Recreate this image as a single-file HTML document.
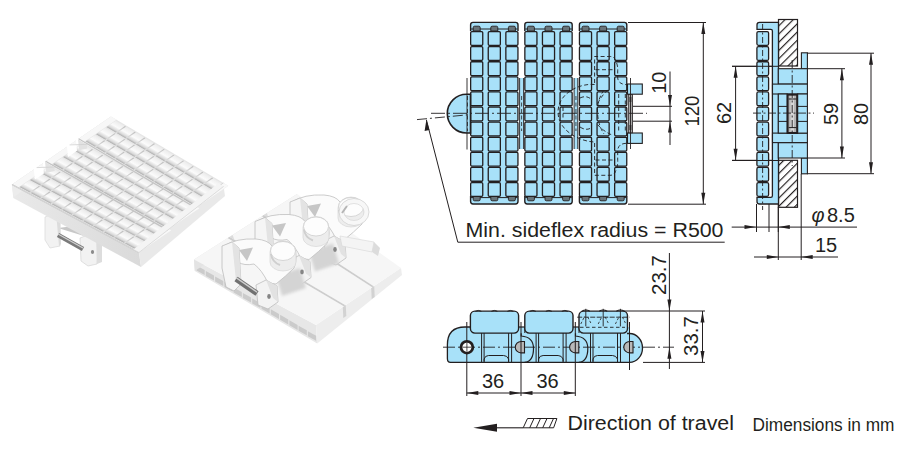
<!DOCTYPE html>
<html><head><meta charset="utf-8"><style>
html,body{margin:0;padding:0;background:#fff;width:921px;height:454px;overflow:hidden}
svg{display:block}
text{font-family:"Liberation Sans",sans-serif;fill:#231f20}
</style></head><body>
<svg width="921" height="454" viewBox="0 0 921 454">
<rect width="921" height="454" fill="#fff"/>
<defs>
<linearGradient id="ridge" x1="0" y1="0" x2="0" y2="1">
<stop offset="0" stop-color="#aaaaaa"/><stop offset="0.18" stop-color="#d8d8d8"/><stop offset="0.5" stop-color="#fbfbfb"/><stop offset="1" stop-color="#ececec"/>
</linearGradient>
<linearGradient id="gap" x1="0" y1="0" x2="0" y2="1"><stop offset="0" stop-color="#e2e2e2"/><stop offset="0.5" stop-color="#d2d2d2"/><stop offset="1" stop-color="#bebebe"/></linearGradient>
<linearGradient id="ffaceL" x1="0" y1="0" x2="1" y2="0">
<stop offset="0" stop-color="#e9e9e9"/><stop offset="1" stop-color="#dadada"/>
</linearGradient>
</defs>
<polygon points="58,228 84,236 74,226" fill="#c8c8c8"/>
<polygon points="45,217 58,212 60,222 60,246 50,248 45,240" fill="#f2f2f2" stroke="#d8d8d8" stroke-width="0.7"/>
<polygon points="56,212 60,214 61,244 59,246" fill="#dcdcdc"/>
<polygon points="80,238 93,233 98,240 97,264 88,266 81,261" fill="#f2f2f2" stroke="#d4d4d4" stroke-width="0.7"/>
<polygon points="96,236 102,242 102,262 97,264" fill="#dddddd"/>
<line x1="58" y1="235" x2="83" y2="249" stroke="#7a7a7a" stroke-width="4.6"/>
<line x1="58" y1="234" x2="83" y2="248" stroke="#d0d0d0" stroke-width="1.2"/>
<ellipse cx="92.5" cy="252" rx="1.6" ry="2" fill="#8a8a8a"/>
<polygon points="12.0,184.5 139.0,252.5 141.0,267.0 13.3,198.0" fill="url(#ffaceL)"/>
<polygon points="139.0,252.5 223.6,186.4 225.0,196.0 141.0,267.0" fill="#e9e9e9"/>
<polygon points="12.0,184.5 111.0,116.5 112.0,127.0 13.3,197.5" fill="#ececec"/>
<g transform="matrix(0.9769,0.5231,1.0802,-0.7420,12.00,184.50)">
<rect x="0" y="0" width="130" height="30" fill="#e6e6e6"/>
<rect x="0" y="0" width="6" height="30" fill="#f7f7f7"/>
<rect x="6.5" y="1.2" width="118" height="8.6" fill="url(#ridge)"/>
<rect x="16.6" y="1.2" width="1.2" height="8.6" fill="url(#gap)"/>
<rect x="27.4" y="1.2" width="1.2" height="8.6" fill="url(#gap)"/>
<rect x="38.1" y="1.2" width="1.2" height="8.6" fill="url(#gap)"/>
<rect x="48.8" y="1.2" width="1.2" height="8.6" fill="url(#gap)"/>
<rect x="59.5" y="1.2" width="1.2" height="8.6" fill="url(#gap)"/>
<rect x="70.3" y="1.2" width="1.2" height="8.6" fill="url(#gap)"/>
<rect x="81.0" y="1.2" width="1.2" height="8.6" fill="url(#gap)"/>
<rect x="91.7" y="1.2" width="1.2" height="8.6" fill="url(#gap)"/>
<rect x="102.4" y="1.2" width="1.2" height="8.6" fill="url(#gap)"/>
<rect x="113.2" y="1.2" width="1.2" height="8.6" fill="url(#gap)"/>
<rect x="6.5" y="10.799999999999999" width="118" height="8.6" fill="url(#ridge)"/>
<rect x="16.6" y="10.799999999999999" width="1.2" height="8.6" fill="url(#gap)"/>
<rect x="27.4" y="10.799999999999999" width="1.2" height="8.6" fill="url(#gap)"/>
<rect x="38.1" y="10.799999999999999" width="1.2" height="8.6" fill="url(#gap)"/>
<rect x="48.8" y="10.799999999999999" width="1.2" height="8.6" fill="url(#gap)"/>
<rect x="59.5" y="10.799999999999999" width="1.2" height="8.6" fill="url(#gap)"/>
<rect x="70.3" y="10.799999999999999" width="1.2" height="8.6" fill="url(#gap)"/>
<rect x="81.0" y="10.799999999999999" width="1.2" height="8.6" fill="url(#gap)"/>
<rect x="91.7" y="10.799999999999999" width="1.2" height="8.6" fill="url(#gap)"/>
<rect x="102.4" y="10.799999999999999" width="1.2" height="8.6" fill="url(#gap)"/>
<rect x="113.2" y="10.799999999999999" width="1.2" height="8.6" fill="url(#gap)"/>
<rect x="6.5" y="20.4" width="118" height="8.6" fill="url(#ridge)"/>
<rect x="16.6" y="20.4" width="1.2" height="8.6" fill="url(#gap)"/>
<rect x="27.4" y="20.4" width="1.2" height="8.6" fill="url(#gap)"/>
<rect x="38.1" y="20.4" width="1.2" height="8.6" fill="url(#gap)"/>
<rect x="48.8" y="20.4" width="1.2" height="8.6" fill="url(#gap)"/>
<rect x="59.5" y="20.4" width="1.2" height="8.6" fill="url(#gap)"/>
<rect x="70.3" y="20.4" width="1.2" height="8.6" fill="url(#gap)"/>
<rect x="81.0" y="20.4" width="1.2" height="8.6" fill="url(#gap)"/>
<rect x="91.7" y="20.4" width="1.2" height="8.6" fill="url(#gap)"/>
<rect x="102.4" y="20.4" width="1.2" height="8.6" fill="url(#gap)"/>
<rect x="113.2" y="20.4" width="1.2" height="8.6" fill="url(#gap)"/>
<rect x="124.6" y="0" width="5.4" height="30" fill="#f8f8f8"/>
<line x1="124.6" y1="0" x2="124.6" y2="30" stroke="#d4d4d4" stroke-width="0.9" vector-effect="non-scaling-stroke"/>
<line x1="0" y1="0" x2="130" y2="0" stroke="#c4c4c4" stroke-width="1.3" vector-effect="non-scaling-stroke"/>
</g>
<g transform="matrix(0.9393,0.5280,1.0604,-0.7284,45.59,161.43)">
<rect x="0" y="0" width="130" height="30" fill="#e6e6e6"/>
<rect x="0" y="0" width="6" height="30" fill="#f7f7f7"/>
<rect x="6.5" y="1.2" width="118" height="8.6" fill="url(#ridge)"/>
<rect x="16.6" y="1.2" width="1.2" height="8.6" fill="url(#gap)"/>
<rect x="27.4" y="1.2" width="1.2" height="8.6" fill="url(#gap)"/>
<rect x="38.1" y="1.2" width="1.2" height="8.6" fill="url(#gap)"/>
<rect x="48.8" y="1.2" width="1.2" height="8.6" fill="url(#gap)"/>
<rect x="59.5" y="1.2" width="1.2" height="8.6" fill="url(#gap)"/>
<rect x="70.3" y="1.2" width="1.2" height="8.6" fill="url(#gap)"/>
<rect x="81.0" y="1.2" width="1.2" height="8.6" fill="url(#gap)"/>
<rect x="91.7" y="1.2" width="1.2" height="8.6" fill="url(#gap)"/>
<rect x="102.4" y="1.2" width="1.2" height="8.6" fill="url(#gap)"/>
<rect x="113.2" y="1.2" width="1.2" height="8.6" fill="url(#gap)"/>
<rect x="6.5" y="10.799999999999999" width="118" height="8.6" fill="url(#ridge)"/>
<rect x="16.6" y="10.799999999999999" width="1.2" height="8.6" fill="url(#gap)"/>
<rect x="27.4" y="10.799999999999999" width="1.2" height="8.6" fill="url(#gap)"/>
<rect x="38.1" y="10.799999999999999" width="1.2" height="8.6" fill="url(#gap)"/>
<rect x="48.8" y="10.799999999999999" width="1.2" height="8.6" fill="url(#gap)"/>
<rect x="59.5" y="10.799999999999999" width="1.2" height="8.6" fill="url(#gap)"/>
<rect x="70.3" y="10.799999999999999" width="1.2" height="8.6" fill="url(#gap)"/>
<rect x="81.0" y="10.799999999999999" width="1.2" height="8.6" fill="url(#gap)"/>
<rect x="91.7" y="10.799999999999999" width="1.2" height="8.6" fill="url(#gap)"/>
<rect x="102.4" y="10.799999999999999" width="1.2" height="8.6" fill="url(#gap)"/>
<rect x="113.2" y="10.799999999999999" width="1.2" height="8.6" fill="url(#gap)"/>
<rect x="6.5" y="20.4" width="118" height="8.6" fill="url(#ridge)"/>
<rect x="16.6" y="20.4" width="1.2" height="8.6" fill="url(#gap)"/>
<rect x="27.4" y="20.4" width="1.2" height="8.6" fill="url(#gap)"/>
<rect x="38.1" y="20.4" width="1.2" height="8.6" fill="url(#gap)"/>
<rect x="48.8" y="20.4" width="1.2" height="8.6" fill="url(#gap)"/>
<rect x="59.5" y="20.4" width="1.2" height="8.6" fill="url(#gap)"/>
<rect x="70.3" y="20.4" width="1.2" height="8.6" fill="url(#gap)"/>
<rect x="81.0" y="20.4" width="1.2" height="8.6" fill="url(#gap)"/>
<rect x="91.7" y="20.4" width="1.2" height="8.6" fill="url(#gap)"/>
<rect x="102.4" y="20.4" width="1.2" height="8.6" fill="url(#gap)"/>
<rect x="113.2" y="20.4" width="1.2" height="8.6" fill="url(#gap)"/>
<rect x="124.6" y="0" width="5.4" height="30" fill="#f8f8f8"/>
<line x1="124.6" y1="0" x2="124.6" y2="30" stroke="#d4d4d4" stroke-width="0.9" vector-effect="non-scaling-stroke"/>
<line x1="0" y1="0" x2="130" y2="0" stroke="#c4c4c4" stroke-width="1.3" vector-effect="non-scaling-stroke"/>
</g>
<g transform="matrix(0.9024,0.5329,1.0802,-0.7420,78.59,138.76)">
<rect x="0" y="0" width="130" height="30" fill="#e6e6e6"/>
<rect x="0" y="0" width="6" height="30" fill="#f7f7f7"/>
<rect x="6.5" y="1.2" width="118" height="8.6" fill="url(#ridge)"/>
<rect x="16.6" y="1.2" width="1.2" height="8.6" fill="url(#gap)"/>
<rect x="27.4" y="1.2" width="1.2" height="8.6" fill="url(#gap)"/>
<rect x="38.1" y="1.2" width="1.2" height="8.6" fill="url(#gap)"/>
<rect x="48.8" y="1.2" width="1.2" height="8.6" fill="url(#gap)"/>
<rect x="59.5" y="1.2" width="1.2" height="8.6" fill="url(#gap)"/>
<rect x="70.3" y="1.2" width="1.2" height="8.6" fill="url(#gap)"/>
<rect x="81.0" y="1.2" width="1.2" height="8.6" fill="url(#gap)"/>
<rect x="91.7" y="1.2" width="1.2" height="8.6" fill="url(#gap)"/>
<rect x="102.4" y="1.2" width="1.2" height="8.6" fill="url(#gap)"/>
<rect x="113.2" y="1.2" width="1.2" height="8.6" fill="url(#gap)"/>
<rect x="6.5" y="10.799999999999999" width="118" height="8.6" fill="url(#ridge)"/>
<rect x="16.6" y="10.799999999999999" width="1.2" height="8.6" fill="url(#gap)"/>
<rect x="27.4" y="10.799999999999999" width="1.2" height="8.6" fill="url(#gap)"/>
<rect x="38.1" y="10.799999999999999" width="1.2" height="8.6" fill="url(#gap)"/>
<rect x="48.8" y="10.799999999999999" width="1.2" height="8.6" fill="url(#gap)"/>
<rect x="59.5" y="10.799999999999999" width="1.2" height="8.6" fill="url(#gap)"/>
<rect x="70.3" y="10.799999999999999" width="1.2" height="8.6" fill="url(#gap)"/>
<rect x="81.0" y="10.799999999999999" width="1.2" height="8.6" fill="url(#gap)"/>
<rect x="91.7" y="10.799999999999999" width="1.2" height="8.6" fill="url(#gap)"/>
<rect x="102.4" y="10.799999999999999" width="1.2" height="8.6" fill="url(#gap)"/>
<rect x="113.2" y="10.799999999999999" width="1.2" height="8.6" fill="url(#gap)"/>
<rect x="6.5" y="20.4" width="118" height="8.6" fill="url(#ridge)"/>
<rect x="16.6" y="20.4" width="1.2" height="8.6" fill="url(#gap)"/>
<rect x="27.4" y="20.4" width="1.2" height="8.6" fill="url(#gap)"/>
<rect x="38.1" y="20.4" width="1.2" height="8.6" fill="url(#gap)"/>
<rect x="48.8" y="20.4" width="1.2" height="8.6" fill="url(#gap)"/>
<rect x="59.5" y="20.4" width="1.2" height="8.6" fill="url(#gap)"/>
<rect x="70.3" y="20.4" width="1.2" height="8.6" fill="url(#gap)"/>
<rect x="81.0" y="20.4" width="1.2" height="8.6" fill="url(#gap)"/>
<rect x="91.7" y="20.4" width="1.2" height="8.6" fill="url(#gap)"/>
<rect x="102.4" y="20.4" width="1.2" height="8.6" fill="url(#gap)"/>
<rect x="113.2" y="20.4" width="1.2" height="8.6" fill="url(#gap)"/>
<rect x="124.6" y="0" width="5.4" height="30" fill="#f8f8f8"/>
<line x1="124.6" y1="0" x2="124.6" y2="30" stroke="#d4d4d4" stroke-width="0.9" vector-effect="non-scaling-stroke"/>
<line x1="0" y1="0" x2="130" y2="0" stroke="#c4c4c4" stroke-width="1.3" vector-effect="non-scaling-stroke"/>
</g>
<polygon points="33.6,166.6 54.2,167.0 42.6,160.5 43.9,173.5 34.9,179.6" fill="#ffffff"/>
<polygon points="45.0,161.8 54.2,167.0 54.8,171.0 46.2,172.8" fill="#e2e2e2"/>
<polyline points="36.6,167.6 54.2,167.0" fill="none" stroke="#d0d0d0" stroke-width="0.8"/>
<polygon points="66.7,143.9 86.8,144.4 75.7,137.8 77.0,150.8 68.0,156.9" fill="#ffffff"/>
<polygon points="78.0,139.2 86.8,144.4 87.4,148.4 79.2,150.2" fill="#e2e2e2"/>
<polyline points="69.6,144.9 86.8,144.4" fill="none" stroke="#d0d0d0" stroke-width="0.8"/>
<polygon points="133.3,249.4 139.0,252.5 223.6,186.4 218.5,183.3" fill="#f4f4f4"/>
<polyline points="139.0,252.5 223.6,186.4" fill="none" stroke="#d6d6d6" stroke-width="0.8"/>
<polyline points="12.0,184.5 139.0,252.5" fill="none" stroke="#d9d9d9" stroke-width="0.8"/>
<defs><filter id="bl" x="-30%" y="-30%" width="160%" height="160%"><feGaussianBlur stdDeviation="1.6"/></filter><filter id="bl2" x="-30%" y="-30%" width="160%" height="160%"><feGaussianBlur stdDeviation="0.7"/></filter></defs>
<polygon points="194.0,259.5 316.0,325.0 317.2,343.5 194.8,271.0" fill="#e7e7e7"/>
<polygon points="196.5,265.5 204.7,270.1 204.7,275.1 196.5,270.5" fill="#cbcbcb"/>
<polygon points="205.8,271.0 214.0,275.6 214.0,280.6 205.8,276.0" fill="#cbcbcb"/>
<polygon points="215.1,276.5 223.3,281.1 223.3,286.1 215.1,281.5" fill="#cbcbcb"/>
<polygon points="224.4,281.9 232.6,286.5 232.6,291.5 224.4,286.9" fill="#cbcbcb"/>
<polygon points="233.6,287.4 241.8,292.0 241.8,297.0 233.6,292.4" fill="#cbcbcb"/>
<polygon points="242.9,292.9 251.1,297.5 251.1,302.5 242.9,297.9" fill="#cbcbcb"/>
<polygon points="252.2,298.4 260.4,303.0 260.4,308.0 252.2,303.4" fill="#cbcbcb"/>
<polygon points="261.5,303.8 269.7,308.4 269.7,313.4 261.5,308.8" fill="#cbcbcb"/>
<polygon points="270.8,309.3 279.0,313.9 279.0,318.9 270.8,314.3" fill="#cbcbcb"/>
<polygon points="280.1,314.8 288.3,319.4 288.3,324.4 280.1,319.8" fill="#cbcbcb"/>
<polygon points="289.4,320.3 297.6,324.9 297.6,329.9 289.4,325.3" fill="#cbcbcb"/>
<polygon points="298.6,325.7 306.8,330.3 306.8,335.3 298.6,330.7" fill="#cbcbcb"/>
<polygon points="307.9,331.2 316.1,335.8 316.1,340.8 307.9,336.2" fill="#cbcbcb"/>
<polygon points="316.0,325.0 401.0,268.0 402.0,275.0 317.2,343.5" fill="#ededed"/>
<polygon points="342.8,307.0 345.8,305.0 346.3,316.0 343.3,318.0" fill="#d2d2d2"/>
<polygon points="371.2,288.0 374.2,286.0 374.7,297.0 371.7,299.0" fill="#d2d2d2"/>
<polygon points="194.0,259.5 297.0,194.0 298.0,202.0 194.8,271.0" fill="#e3e3e3"/>
<polygon points="194.0,259.5 316.0,325.0 343.8,306.3 227.7,238.1" fill="#f6f6f6"/>
<polygon points="229.6,236.9 345.4,305.3 372.2,287.3 262.0,216.2" fill="#f6f6f6"/>
<polygon points="227.7,238.1 343.8,306.3 345.4,305.3 229.6,236.9" fill="#cdcdcd"/>
<polygon points="229.6,236.9 234.2,239.6 232.7,234.9" fill="#dcdcdc"/>
<polygon points="263.9,215.0 373.7,286.3 401.0,268.0 297.0,194.0" fill="#f6f6f6"/>
<polygon points="262.0,216.2 372.2,287.3 373.7,286.3 263.9,215.0" fill="#cdcdcd"/>
<polygon points="263.9,215.0 268.3,217.9 267.0,213.1" fill="#dcdcdc"/>
<path d="M292,202 Q304,194 324,195 Q336,196 340,202 L362,202 Q366,214 362,224 Q354,232 344,240 L336,239 Q330,226 322,220 Q312,222 306,218 Z" fill="#fbfbfb" stroke="#bfbfbf" stroke-width="0.8"/>
<polygon points="307.0,206.0 321.0,203.5 315.0,217.0" fill="#c6c6c6"/>
<path d="M338,208 A13,11 0 0 1 364,208 V218 A13,9 0 0 1 338,218 Z" fill="#ededed" stroke="#d2d2d2" stroke-width="0.6"/>
<ellipse cx="351" cy="207" rx="12.5" ry="9.5" fill="#fdfdfd" stroke="#c8c8c8" stroke-width="0.7"/>
<path d="M339,210 Q340,218 348,221" fill="none" stroke="#cfcfcf" stroke-width="2" filter="url(#bl2)"/>
<polygon points="290.0,202.0 300.0,198.0 307.0,204.0 309.0,240.0 302.0,247.0 294.0,243.0 290.0,224.0" fill="#f5f5f5" stroke="#bdbdbd" stroke-width="0.8"/>
<polygon points="300.0,198.0 307.0,204.0 309.0,240.0 304.0,237.0" fill="#e3e3e3"/>
<polygon points="324.0,241.0 334.0,236.0 345.0,242.0 346.0,258.0 336.0,265.0 326.0,261.0" fill="#f3f3f3" stroke="#bcbcbc" stroke-width="0.8"/>
<polygon points="334.0,236.0 345.0,242.0 346.0,258.0 341.0,254.0" fill="#e2e2e2"/>
<polygon points="309.0,251.5 333.0,243.5 339.0,263.5 315.0,271.5" fill="#d4d4d4" filter="url(#bl)"/>
<path d="M257,221.5 Q269,213.5 289,214.5 Q301,215.5 305,221.5 L327,221.5 Q331,233.5 327,243.5 Q319,251.5 309,259.5 L301,258.5 Q295,245.5 287,239.5 Q277,241.5 271,237.5 Z" fill="#fbfbfb" stroke="#bfbfbf" stroke-width="0.8"/>
<polygon points="272.0,225.5 286.0,223.0 280.0,236.5" fill="#c6c6c6"/>
<path d="M303,227.5 A13,11 0 0 1 329,227.5 V237.5 A13,9 0 0 1 303,237.5 Z" fill="#ededed" stroke="#d2d2d2" stroke-width="0.6"/>
<ellipse cx="316" cy="226.5" rx="12.5" ry="9.5" fill="#fdfdfd" stroke="#c8c8c8" stroke-width="0.7"/>
<path d="M304,229.5 Q305,237.5 313,240.5" fill="none" stroke="#cfcfcf" stroke-width="2" filter="url(#bl2)"/>
<polygon points="255.0,221.5 265.0,217.5 272.0,223.5 274.0,259.5 267.0,266.5 259.0,262.5 255.0,243.5" fill="#f5f5f5" stroke="#bdbdbd" stroke-width="0.8"/>
<polygon points="265.0,217.5 272.0,223.5 274.0,259.5 269.0,256.5" fill="#e3e3e3"/>
<polygon points="289.0,260.5 299.0,255.5 310.0,261.5 311.0,277.5 301.0,284.5 291.0,280.5" fill="#f3f3f3" stroke="#bcbcbc" stroke-width="0.8"/>
<polygon points="299.0,255.5 310.0,261.5 311.0,277.5 306.0,273.5" fill="#e2e2e2"/>
<polygon points="276.0,276.0 300.0,268.0 306.0,288.0 282.0,296.0" fill="#d4d4d4" filter="url(#bl)"/>
<path d="M224,246 Q236,238 256,239 Q268,240 272,246 L294,246 Q298,258 294,268 Q286,276 276,284 L268,283 Q262,270 254,264 Q244,266 238,262 Z" fill="#fbfbfb" stroke="#bfbfbf" stroke-width="0.8"/>
<polygon points="239.0,250.0 253.0,247.5 247.0,261.0" fill="#c6c6c6"/>
<path d="M270,252 A13,11 0 0 1 296,252 V262 A13,9 0 0 1 270,262 Z" fill="#ededed" stroke="#d2d2d2" stroke-width="0.6"/>
<ellipse cx="283" cy="251" rx="12.5" ry="9.5" fill="#fdfdfd" stroke="#c8c8c8" stroke-width="0.7"/>
<path d="M271,254 Q272,262 280,265" fill="none" stroke="#cfcfcf" stroke-width="2" filter="url(#bl2)"/>
<polygon points="222.0,246.0 232.0,242.0 239.0,248.0 241.0,284.0 234.0,291.0 226.0,287.0 222.0,268.0" fill="#f5f5f5" stroke="#bdbdbd" stroke-width="0.8"/>
<polygon points="232.0,242.0 239.0,248.0 241.0,284.0 236.0,281.0" fill="#e3e3e3"/>
<polygon points="256.0,285.0 266.0,280.0 277.0,286.0 278.0,302.0 268.0,309.0 258.0,305.0" fill="#f3f3f3" stroke="#bcbcbc" stroke-width="0.8"/>
<polygon points="266.0,280.0 277.0,286.0 278.0,302.0 273.0,298.0" fill="#e2e2e2"/>
<ellipse cx="269" cy="296.5" rx="1.8" ry="2.4" fill="#858585"/>
<ellipse cx="302" cy="272" rx="1.8" ry="2.4" fill="#858585"/>
<ellipse cx="335" cy="249.5" rx="1.8" ry="2.4" fill="#858585"/>
<ellipse cx="342" cy="210" rx="1.8" ry="2.4" fill="#858585"/>
<ellipse cx="354" cy="212" rx="12.5" ry="11" fill="none" stroke="#f7f7f7" stroke-width="5"/>
<ellipse cx="354" cy="212" rx="15" ry="13.5" fill="none" stroke="#d2d2d2" stroke-width="0.8"/>
<ellipse cx="354" cy="212" rx="10" ry="8.5" fill="none" stroke="#dadada" stroke-width="0.8"/>
<path d="M340,236 L374,242 L372,252 L342,246 Z" fill="#f4f4f4" stroke="#d6d6d6" stroke-width="0.6"/>
<path d="M374,242 L380,248 L378,256 L372,252 Z" fill="#dcdcdc"/>
<line x1="347" y1="206" x2="342" y2="213" stroke="#b5b5b5" stroke-width="2"/>
<line x1="236" y1="279" x2="257" y2="293.5" stroke="#707070" stroke-width="5.5"/>
<line x1="236" y1="277.6" x2="257" y2="292.1" stroke="#cfcfcf" stroke-width="1.3"/>
<rect x="471.0" y="23" width="46.5" height="180.5" fill="#a8e1f9"/>
<path d="M470.6,31 V24.8 Q470.6,22.4 473.0,22.4 H515.6 Q518.0,22.4 518.0,24.8 V31" fill="#a8e1f9" stroke="#231f20" stroke-width="1.4"/>
<line x1="471.0" y1="29" x2="517.6" y2="29" stroke="#231f20" stroke-width="1"/>
<path d="M470.6,196 V201.6 Q470.6,204 473.0,204 H515.6 Q518.0,204 518.0,201.6 V196" fill="#a8e1f9" stroke="#231f20" stroke-width="1.4"/>
<line x1="471.0" y1="197.6" x2="517.6" y2="197.6" stroke="#231f20" stroke-width="1"/>
<path d="M473.2,31 V27.6 Q473.2,26.2 474.6,26.2 H478.8 Q480.2,26.2 480.2,27.6 V31 Z" fill="#68747a" stroke="#231f20" stroke-width="0.9"/>
<path d="M473.2,196 V199.4 Q473.2,200.8 474.6,200.8 H478.8 Q480.2,200.8 480.2,199.4 V196 Z" fill="#68747a" stroke="#231f20" stroke-width="0.9"/>
<rect x="470.65" y="31.549999999999997" width="12.1" height="13.799999999999999" rx="1.1" fill="#a8e1f9" stroke="#231f20" stroke-width="1.3"/>
<rect x="470.65" y="46.65" width="12.1" height="13.799999999999999" rx="1.1" fill="#a8e1f9" stroke="#231f20" stroke-width="1.3"/>
<rect x="470.65" y="61.74999999999999" width="12.1" height="13.799999999999999" rx="1.1" fill="#a8e1f9" stroke="#231f20" stroke-width="1.3"/>
<rect x="470.65" y="76.85" width="12.1" height="13.799999999999999" rx="1.1" fill="#a8e1f9" stroke="#231f20" stroke-width="1.3"/>
<rect x="470.65" y="91.95" width="12.1" height="13.799999999999999" rx="1.1" fill="#a8e1f9" stroke="#231f20" stroke-width="1.3"/>
<rect x="470.65" y="107.05000000000001" width="12.1" height="13.799999999999999" rx="1.1" fill="#a8e1f9" stroke="#231f20" stroke-width="1.3"/>
<rect x="470.65" y="122.15" width="12.1" height="13.799999999999999" rx="1.1" fill="#a8e1f9" stroke="#231f20" stroke-width="1.3"/>
<rect x="470.65" y="137.25" width="12.1" height="13.799999999999999" rx="1.1" fill="#a8e1f9" stroke="#231f20" stroke-width="1.3"/>
<rect x="470.65" y="152.35" width="12.1" height="13.799999999999999" rx="1.1" fill="#a8e1f9" stroke="#231f20" stroke-width="1.3"/>
<rect x="470.65" y="167.45000000000002" width="12.1" height="13.799999999999999" rx="1.1" fill="#a8e1f9" stroke="#231f20" stroke-width="1.3"/>
<rect x="470.65" y="182.55" width="12.1" height="13.799999999999999" rx="1.1" fill="#a8e1f9" stroke="#231f20" stroke-width="1.3"/>
<path d="M490.8,31 V27.6 Q490.8,26.2 492.20000000000005,26.2 H496.40000000000003 Q497.8,26.2 497.8,27.6 V31 Z" fill="#68747a" stroke="#231f20" stroke-width="0.9"/>
<path d="M490.8,196 V199.4 Q490.8,200.8 492.20000000000005,200.8 H496.40000000000003 Q497.8,200.8 497.8,199.4 V196 Z" fill="#68747a" stroke="#231f20" stroke-width="0.9"/>
<rect x="488.25" y="31.549999999999997" width="12.1" height="13.799999999999999" rx="1.1" fill="#a8e1f9" stroke="#231f20" stroke-width="1.3"/>
<rect x="488.25" y="46.65" width="12.1" height="13.799999999999999" rx="1.1" fill="#a8e1f9" stroke="#231f20" stroke-width="1.3"/>
<rect x="488.25" y="61.74999999999999" width="12.1" height="13.799999999999999" rx="1.1" fill="#a8e1f9" stroke="#231f20" stroke-width="1.3"/>
<rect x="488.25" y="76.85" width="12.1" height="13.799999999999999" rx="1.1" fill="#a8e1f9" stroke="#231f20" stroke-width="1.3"/>
<rect x="488.25" y="91.95" width="12.1" height="13.799999999999999" rx="1.1" fill="#a8e1f9" stroke="#231f20" stroke-width="1.3"/>
<rect x="488.25" y="107.05000000000001" width="12.1" height="13.799999999999999" rx="1.1" fill="#a8e1f9" stroke="#231f20" stroke-width="1.3"/>
<rect x="488.25" y="122.15" width="12.1" height="13.799999999999999" rx="1.1" fill="#a8e1f9" stroke="#231f20" stroke-width="1.3"/>
<rect x="488.25" y="137.25" width="12.1" height="13.799999999999999" rx="1.1" fill="#a8e1f9" stroke="#231f20" stroke-width="1.3"/>
<rect x="488.25" y="152.35" width="12.1" height="13.799999999999999" rx="1.1" fill="#a8e1f9" stroke="#231f20" stroke-width="1.3"/>
<rect x="488.25" y="167.45000000000002" width="12.1" height="13.799999999999999" rx="1.1" fill="#a8e1f9" stroke="#231f20" stroke-width="1.3"/>
<rect x="488.25" y="182.55" width="12.1" height="13.799999999999999" rx="1.1" fill="#a8e1f9" stroke="#231f20" stroke-width="1.3"/>
<path d="M508.4,31 V27.6 Q508.4,26.2 509.8,26.2 H514.0 Q515.4,26.2 515.4,27.6 V31 Z" fill="#68747a" stroke="#231f20" stroke-width="0.9"/>
<path d="M508.4,196 V199.4 Q508.4,200.8 509.8,200.8 H514.0 Q515.4,200.8 515.4,199.4 V196 Z" fill="#68747a" stroke="#231f20" stroke-width="0.9"/>
<rect x="505.84999999999997" y="31.549999999999997" width="12.1" height="13.799999999999999" rx="1.1" fill="#a8e1f9" stroke="#231f20" stroke-width="1.3"/>
<rect x="505.84999999999997" y="46.65" width="12.1" height="13.799999999999999" rx="1.1" fill="#a8e1f9" stroke="#231f20" stroke-width="1.3"/>
<rect x="505.84999999999997" y="61.74999999999999" width="12.1" height="13.799999999999999" rx="1.1" fill="#a8e1f9" stroke="#231f20" stroke-width="1.3"/>
<rect x="505.84999999999997" y="76.85" width="12.1" height="13.799999999999999" rx="1.1" fill="#a8e1f9" stroke="#231f20" stroke-width="1.3"/>
<rect x="505.84999999999997" y="91.95" width="12.1" height="13.799999999999999" rx="1.1" fill="#a8e1f9" stroke="#231f20" stroke-width="1.3"/>
<rect x="505.84999999999997" y="107.05000000000001" width="12.1" height="13.799999999999999" rx="1.1" fill="#a8e1f9" stroke="#231f20" stroke-width="1.3"/>
<rect x="505.84999999999997" y="122.15" width="12.1" height="13.799999999999999" rx="1.1" fill="#a8e1f9" stroke="#231f20" stroke-width="1.3"/>
<rect x="505.84999999999997" y="137.25" width="12.1" height="13.799999999999999" rx="1.1" fill="#a8e1f9" stroke="#231f20" stroke-width="1.3"/>
<rect x="505.84999999999997" y="152.35" width="12.1" height="13.799999999999999" rx="1.1" fill="#a8e1f9" stroke="#231f20" stroke-width="1.3"/>
<rect x="505.84999999999997" y="167.45000000000002" width="12.1" height="13.799999999999999" rx="1.1" fill="#a8e1f9" stroke="#231f20" stroke-width="1.3"/>
<rect x="505.84999999999997" y="182.55" width="12.1" height="13.799999999999999" rx="1.1" fill="#a8e1f9" stroke="#231f20" stroke-width="1.3"/>
<rect x="525.2" y="23" width="46.5" height="180.5" fill="#a8e1f9"/>
<path d="M524.8000000000001,31 V24.8 Q524.8000000000001,22.4 527.2,22.4 H569.8000000000001 Q572.2,22.4 572.2,24.8 V31" fill="#a8e1f9" stroke="#231f20" stroke-width="1.4"/>
<line x1="525.2" y1="29" x2="571.8000000000001" y2="29" stroke="#231f20" stroke-width="1"/>
<path d="M524.8000000000001,196 V201.6 Q524.8000000000001,204 527.2,204 H569.8000000000001 Q572.2,204 572.2,201.6 V196" fill="#a8e1f9" stroke="#231f20" stroke-width="1.4"/>
<line x1="525.2" y1="197.6" x2="571.8000000000001" y2="197.6" stroke="#231f20" stroke-width="1"/>
<path d="M527.4000000000001,31 V27.6 Q527.4000000000001,26.2 528.8000000000001,26.2 H533.0 Q534.4000000000001,26.2 534.4000000000001,27.6 V31 Z" fill="#68747a" stroke="#231f20" stroke-width="0.9"/>
<path d="M527.4000000000001,196 V199.4 Q527.4000000000001,200.8 528.8000000000001,200.8 H533.0 Q534.4000000000001,200.8 534.4000000000001,199.4 V196 Z" fill="#68747a" stroke="#231f20" stroke-width="0.9"/>
<rect x="524.85" y="31.549999999999997" width="12.1" height="13.799999999999999" rx="1.1" fill="#a8e1f9" stroke="#231f20" stroke-width="1.3"/>
<rect x="524.85" y="46.65" width="12.1" height="13.799999999999999" rx="1.1" fill="#a8e1f9" stroke="#231f20" stroke-width="1.3"/>
<rect x="524.85" y="61.74999999999999" width="12.1" height="13.799999999999999" rx="1.1" fill="#a8e1f9" stroke="#231f20" stroke-width="1.3"/>
<rect x="524.85" y="76.85" width="12.1" height="13.799999999999999" rx="1.1" fill="#a8e1f9" stroke="#231f20" stroke-width="1.3"/>
<rect x="524.85" y="91.95" width="12.1" height="13.799999999999999" rx="1.1" fill="#a8e1f9" stroke="#231f20" stroke-width="1.3"/>
<rect x="524.85" y="107.05000000000001" width="12.1" height="13.799999999999999" rx="1.1" fill="#a8e1f9" stroke="#231f20" stroke-width="1.3"/>
<rect x="524.85" y="122.15" width="12.1" height="13.799999999999999" rx="1.1" fill="#a8e1f9" stroke="#231f20" stroke-width="1.3"/>
<rect x="524.85" y="137.25" width="12.1" height="13.799999999999999" rx="1.1" fill="#a8e1f9" stroke="#231f20" stroke-width="1.3"/>
<rect x="524.85" y="152.35" width="12.1" height="13.799999999999999" rx="1.1" fill="#a8e1f9" stroke="#231f20" stroke-width="1.3"/>
<rect x="524.85" y="167.45000000000002" width="12.1" height="13.799999999999999" rx="1.1" fill="#a8e1f9" stroke="#231f20" stroke-width="1.3"/>
<rect x="524.85" y="182.55" width="12.1" height="13.799999999999999" rx="1.1" fill="#a8e1f9" stroke="#231f20" stroke-width="1.3"/>
<path d="M545.0000000000001,31 V27.6 Q545.0000000000001,26.2 546.4000000000001,26.2 H550.6 Q552.0000000000001,26.2 552.0000000000001,27.6 V31 Z" fill="#68747a" stroke="#231f20" stroke-width="0.9"/>
<path d="M545.0000000000001,196 V199.4 Q545.0000000000001,200.8 546.4000000000001,200.8 H550.6 Q552.0000000000001,200.8 552.0000000000001,199.4 V196 Z" fill="#68747a" stroke="#231f20" stroke-width="0.9"/>
<rect x="542.45" y="31.549999999999997" width="12.1" height="13.799999999999999" rx="1.1" fill="#a8e1f9" stroke="#231f20" stroke-width="1.3"/>
<rect x="542.45" y="46.65" width="12.1" height="13.799999999999999" rx="1.1" fill="#a8e1f9" stroke="#231f20" stroke-width="1.3"/>
<rect x="542.45" y="61.74999999999999" width="12.1" height="13.799999999999999" rx="1.1" fill="#a8e1f9" stroke="#231f20" stroke-width="1.3"/>
<rect x="542.45" y="76.85" width="12.1" height="13.799999999999999" rx="1.1" fill="#a8e1f9" stroke="#231f20" stroke-width="1.3"/>
<rect x="542.45" y="91.95" width="12.1" height="13.799999999999999" rx="1.1" fill="#a8e1f9" stroke="#231f20" stroke-width="1.3"/>
<rect x="542.45" y="107.05000000000001" width="12.1" height="13.799999999999999" rx="1.1" fill="#a8e1f9" stroke="#231f20" stroke-width="1.3"/>
<rect x="542.45" y="122.15" width="12.1" height="13.799999999999999" rx="1.1" fill="#a8e1f9" stroke="#231f20" stroke-width="1.3"/>
<rect x="542.45" y="137.25" width="12.1" height="13.799999999999999" rx="1.1" fill="#a8e1f9" stroke="#231f20" stroke-width="1.3"/>
<rect x="542.45" y="152.35" width="12.1" height="13.799999999999999" rx="1.1" fill="#a8e1f9" stroke="#231f20" stroke-width="1.3"/>
<rect x="542.45" y="167.45000000000002" width="12.1" height="13.799999999999999" rx="1.1" fill="#a8e1f9" stroke="#231f20" stroke-width="1.3"/>
<rect x="542.45" y="182.55" width="12.1" height="13.799999999999999" rx="1.1" fill="#a8e1f9" stroke="#231f20" stroke-width="1.3"/>
<path d="M562.6000000000001,31 V27.6 Q562.6000000000001,26.2 564.0000000000001,26.2 H568.2 Q569.6000000000001,26.2 569.6000000000001,27.6 V31 Z" fill="#68747a" stroke="#231f20" stroke-width="0.9"/>
<path d="M562.6000000000001,196 V199.4 Q562.6000000000001,200.8 564.0000000000001,200.8 H568.2 Q569.6000000000001,200.8 569.6000000000001,199.4 V196 Z" fill="#68747a" stroke="#231f20" stroke-width="0.9"/>
<rect x="560.0500000000001" y="31.549999999999997" width="12.1" height="13.799999999999999" rx="1.1" fill="#a8e1f9" stroke="#231f20" stroke-width="1.3"/>
<rect x="560.0500000000001" y="46.65" width="12.1" height="13.799999999999999" rx="1.1" fill="#a8e1f9" stroke="#231f20" stroke-width="1.3"/>
<rect x="560.0500000000001" y="61.74999999999999" width="12.1" height="13.799999999999999" rx="1.1" fill="#a8e1f9" stroke="#231f20" stroke-width="1.3"/>
<rect x="560.0500000000001" y="76.85" width="12.1" height="13.799999999999999" rx="1.1" fill="#a8e1f9" stroke="#231f20" stroke-width="1.3"/>
<rect x="560.0500000000001" y="91.95" width="12.1" height="13.799999999999999" rx="1.1" fill="#a8e1f9" stroke="#231f20" stroke-width="1.3"/>
<rect x="560.0500000000001" y="107.05000000000001" width="12.1" height="13.799999999999999" rx="1.1" fill="#a8e1f9" stroke="#231f20" stroke-width="1.3"/>
<rect x="560.0500000000001" y="122.15" width="12.1" height="13.799999999999999" rx="1.1" fill="#a8e1f9" stroke="#231f20" stroke-width="1.3"/>
<rect x="560.0500000000001" y="137.25" width="12.1" height="13.799999999999999" rx="1.1" fill="#a8e1f9" stroke="#231f20" stroke-width="1.3"/>
<rect x="560.0500000000001" y="152.35" width="12.1" height="13.799999999999999" rx="1.1" fill="#a8e1f9" stroke="#231f20" stroke-width="1.3"/>
<rect x="560.0500000000001" y="167.45000000000002" width="12.1" height="13.799999999999999" rx="1.1" fill="#a8e1f9" stroke="#231f20" stroke-width="1.3"/>
<rect x="560.0500000000001" y="182.55" width="12.1" height="13.799999999999999" rx="1.1" fill="#a8e1f9" stroke="#231f20" stroke-width="1.3"/>
<rect x="579.8" y="23" width="46.5" height="180.5" fill="#a8e1f9"/>
<path d="M579.4,31 V24.8 Q579.4,22.4 581.8,22.4 H624.4 Q626.8,22.4 626.8,24.8 V31" fill="#a8e1f9" stroke="#231f20" stroke-width="1.4"/>
<line x1="579.8" y1="29" x2="626.4" y2="29" stroke="#231f20" stroke-width="1"/>
<path d="M579.4,196 V201.6 Q579.4,204 581.8,204 H624.4 Q626.8,204 626.8,201.6 V196" fill="#a8e1f9" stroke="#231f20" stroke-width="1.4"/>
<line x1="579.8" y1="197.6" x2="626.4" y2="197.6" stroke="#231f20" stroke-width="1"/>
<path d="M582.0,31 V27.6 Q582.0,26.2 583.4,26.2 H587.5999999999999 Q589.0,26.2 589.0,27.6 V31 Z" fill="#68747a" stroke="#231f20" stroke-width="0.9"/>
<path d="M582.0,196 V199.4 Q582.0,200.8 583.4,200.8 H587.5999999999999 Q589.0,200.8 589.0,199.4 V196 Z" fill="#68747a" stroke="#231f20" stroke-width="0.9"/>
<rect x="579.4499999999999" y="31.549999999999997" width="12.1" height="13.799999999999999" rx="1.1" fill="#a8e1f9" stroke="#231f20" stroke-width="1.3"/>
<rect x="579.4499999999999" y="46.65" width="12.1" height="13.799999999999999" rx="1.1" fill="#a8e1f9" stroke="#231f20" stroke-width="1.3"/>
<rect x="579.4499999999999" y="61.74999999999999" width="12.1" height="13.799999999999999" rx="1.1" fill="#a8e1f9" stroke="#231f20" stroke-width="1.3"/>
<rect x="579.4499999999999" y="76.85" width="12.1" height="13.799999999999999" rx="1.1" fill="#a8e1f9" stroke="#231f20" stroke-width="1.3"/>
<rect x="579.4499999999999" y="91.95" width="12.1" height="13.799999999999999" rx="1.1" fill="#a8e1f9" stroke="#231f20" stroke-width="1.3"/>
<rect x="579.4499999999999" y="107.05000000000001" width="12.1" height="13.799999999999999" rx="1.1" fill="#a8e1f9" stroke="#231f20" stroke-width="1.3"/>
<rect x="579.4499999999999" y="122.15" width="12.1" height="13.799999999999999" rx="1.1" fill="#a8e1f9" stroke="#231f20" stroke-width="1.3"/>
<rect x="579.4499999999999" y="137.25" width="12.1" height="13.799999999999999" rx="1.1" fill="#a8e1f9" stroke="#231f20" stroke-width="1.3"/>
<rect x="579.4499999999999" y="152.35" width="12.1" height="13.799999999999999" rx="1.1" fill="#a8e1f9" stroke="#231f20" stroke-width="1.3"/>
<rect x="579.4499999999999" y="167.45000000000002" width="12.1" height="13.799999999999999" rx="1.1" fill="#a8e1f9" stroke="#231f20" stroke-width="1.3"/>
<rect x="579.4499999999999" y="182.55" width="12.1" height="13.799999999999999" rx="1.1" fill="#a8e1f9" stroke="#231f20" stroke-width="1.3"/>
<path d="M599.6,31 V27.6 Q599.6,26.2 601.0,26.2 H605.1999999999999 Q606.6,26.2 606.6,27.6 V31 Z" fill="#68747a" stroke="#231f20" stroke-width="0.9"/>
<path d="M599.6,196 V199.4 Q599.6,200.8 601.0,200.8 H605.1999999999999 Q606.6,200.8 606.6,199.4 V196 Z" fill="#68747a" stroke="#231f20" stroke-width="0.9"/>
<rect x="597.05" y="31.549999999999997" width="12.1" height="13.799999999999999" rx="1.1" fill="#a8e1f9" stroke="#231f20" stroke-width="1.3"/>
<rect x="597.05" y="46.65" width="12.1" height="13.799999999999999" rx="1.1" fill="#a8e1f9" stroke="#231f20" stroke-width="1.3"/>
<rect x="597.05" y="61.74999999999999" width="12.1" height="13.799999999999999" rx="1.1" fill="#a8e1f9" stroke="#231f20" stroke-width="1.3"/>
<rect x="597.05" y="76.85" width="12.1" height="13.799999999999999" rx="1.1" fill="#a8e1f9" stroke="#231f20" stroke-width="1.3"/>
<rect x="597.05" y="91.95" width="12.1" height="13.799999999999999" rx="1.1" fill="#a8e1f9" stroke="#231f20" stroke-width="1.3"/>
<rect x="597.05" y="107.05000000000001" width="12.1" height="13.799999999999999" rx="1.1" fill="#a8e1f9" stroke="#231f20" stroke-width="1.3"/>
<rect x="597.05" y="122.15" width="12.1" height="13.799999999999999" rx="1.1" fill="#a8e1f9" stroke="#231f20" stroke-width="1.3"/>
<rect x="597.05" y="137.25" width="12.1" height="13.799999999999999" rx="1.1" fill="#a8e1f9" stroke="#231f20" stroke-width="1.3"/>
<rect x="597.05" y="152.35" width="12.1" height="13.799999999999999" rx="1.1" fill="#a8e1f9" stroke="#231f20" stroke-width="1.3"/>
<rect x="597.05" y="167.45000000000002" width="12.1" height="13.799999999999999" rx="1.1" fill="#a8e1f9" stroke="#231f20" stroke-width="1.3"/>
<rect x="597.05" y="182.55" width="12.1" height="13.799999999999999" rx="1.1" fill="#a8e1f9" stroke="#231f20" stroke-width="1.3"/>
<path d="M617.2,31 V27.6 Q617.2,26.2 618.6,26.2 H622.8 Q624.2,26.2 624.2,27.6 V31 Z" fill="#68747a" stroke="#231f20" stroke-width="0.9"/>
<path d="M617.2,196 V199.4 Q617.2,200.8 618.6,200.8 H622.8 Q624.2,200.8 624.2,199.4 V196 Z" fill="#68747a" stroke="#231f20" stroke-width="0.9"/>
<rect x="614.65" y="31.549999999999997" width="12.1" height="13.799999999999999" rx="1.1" fill="#a8e1f9" stroke="#231f20" stroke-width="1.3"/>
<rect x="614.65" y="46.65" width="12.1" height="13.799999999999999" rx="1.1" fill="#a8e1f9" stroke="#231f20" stroke-width="1.3"/>
<rect x="614.65" y="61.74999999999999" width="12.1" height="13.799999999999999" rx="1.1" fill="#a8e1f9" stroke="#231f20" stroke-width="1.3"/>
<rect x="614.65" y="76.85" width="12.1" height="13.799999999999999" rx="1.1" fill="#a8e1f9" stroke="#231f20" stroke-width="1.3"/>
<rect x="614.65" y="91.95" width="12.1" height="13.799999999999999" rx="1.1" fill="#a8e1f9" stroke="#231f20" stroke-width="1.3"/>
<rect x="614.65" y="107.05000000000001" width="12.1" height="13.799999999999999" rx="1.1" fill="#a8e1f9" stroke="#231f20" stroke-width="1.3"/>
<rect x="614.65" y="122.15" width="12.1" height="13.799999999999999" rx="1.1" fill="#a8e1f9" stroke="#231f20" stroke-width="1.3"/>
<rect x="614.65" y="137.25" width="12.1" height="13.799999999999999" rx="1.1" fill="#a8e1f9" stroke="#231f20" stroke-width="1.3"/>
<rect x="614.65" y="152.35" width="12.1" height="13.799999999999999" rx="1.1" fill="#a8e1f9" stroke="#231f20" stroke-width="1.3"/>
<rect x="614.65" y="167.45000000000002" width="12.1" height="13.799999999999999" rx="1.1" fill="#a8e1f9" stroke="#231f20" stroke-width="1.3"/>
<rect x="614.65" y="182.55" width="12.1" height="13.799999999999999" rx="1.1" fill="#a8e1f9" stroke="#231f20" stroke-width="1.3"/>
<rect x="519.6" y="78" width="4.0" height="71" fill="#a8e1f9"/>
<line x1="519.6" y1="78" x2="519.6" y2="149" stroke="#231f20" stroke-width="0.9"/>
<line x1="523.6" y1="78" x2="523.6" y2="149" stroke="#231f20" stroke-width="0.9"/>
<line x1="521.6" y1="96" x2="521.6" y2="131" stroke="#231f20" stroke-width="0.8" stroke-dasharray="4,2.5"/>
<rect x="574.1" y="78" width="3.699999999999932" height="71" fill="#a8e1f9"/>
<line x1="574.1" y1="78" x2="574.1" y2="149" stroke="#231f20" stroke-width="0.9"/>
<line x1="577.8" y1="78" x2="577.8" y2="149" stroke="#231f20" stroke-width="0.9"/>
<line x1="575.95" y1="96" x2="575.95" y2="131" stroke="#231f20" stroke-width="0.8" stroke-dasharray="4,2.5"/>
<path d="M470.5,94.2 H466.7 A19.4,19.4 0 0 0 466.7,133 H470.5 Z" fill="#a8e1f9" stroke="#231f20" stroke-width="1.6"/>
<line x1="467" y1="78" x2="467" y2="149.5" stroke="#231f20" stroke-width="0.9"/>
<line x1="467.5" y1="96" x2="467.5" y2="131" stroke="#231f20" stroke-width="0.8" stroke-dasharray="4,2.5"/>
<rect x="627.5" y="84" width="14.8" height="10.2" fill="#a8e1f9" stroke="#231f20" stroke-width="1.1"/>
<rect x="627.5" y="133" width="14.8" height="10.4" fill="#a8e1f9" stroke="#231f20" stroke-width="1.1"/>
<rect x="628.3" y="94.5" width="4.3" height="38.3" fill="#a9a9a9" stroke="#231f20" stroke-width="0.8"/>
<rect x="629.3" y="97" width="2.2" height="5" fill="#555"/><rect x="629.3" y="125" width="2.2" height="5" fill="#555"/>
<line x1="630.5" y1="78" x2="630.5" y2="149" stroke="#231f20" stroke-width="0.9"/>
<path d="M594.6,83 V56.5 H610 Q614.5,56.5 615.5,60.5 Q618,65 617.7,71 V78 Q618.5,84.6 627,84.6" fill="none" stroke="#231f20" stroke-width="0.9" stroke-dasharray="4,2.5"/>
<path d="M594.6,143 V175.3 H610 Q614.5,175.3 615.5,171.3 Q618,166.5 617.7,160.5 V150 Q618.5,143.3 627,143.3" fill="none" stroke="#231f20" stroke-width="0.9" stroke-dasharray="4,2.5"/>
<path d="M595.5,69.7 H614" fill="none" stroke="#231f20" stroke-width="0.9" stroke-dasharray="4,2.5"/>
<path d="M595.5,160 H614" fill="none" stroke="#231f20" stroke-width="0.9" stroke-dasharray="4,2.5"/>
<path d="M594.6,84.5 C580,83 558,93 558,112 C558,131 580,141.5 594.6,142" fill="none" stroke="#231f20" stroke-width="0.9" stroke-dasharray="4,2.5"/>
<path d="M604,90 Q597,100 597.5,112 Q598,125 604,134" fill="none" stroke="#231f20" stroke-width="0.9" stroke-dasharray="4,2.5"/>
<path d="M580,98 Q586,95 591,99 M597.6,103.5 Q602,95 608,90" fill="none" stroke="#231f20" stroke-width="0.9" stroke-dasharray="4,2.5"/>
<path d="M580,127 Q586,131 591,128 M597.6,124.6 Q603,131 612,135" fill="none" stroke="#231f20" stroke-width="0.9" stroke-dasharray="4,2.5"/>
<path d="M563,107 V119" fill="none" stroke="#231f20" stroke-width="0.9" stroke-dasharray="4,2.5"/>
<path d="M618.7,94 V131 M625.3,94 V131" fill="none" stroke="#231f20" stroke-width="0.9" stroke-dasharray="4,2.5"/>
<line x1="431" y1="113.3" x2="647" y2="113.3" stroke="#231f20" stroke-width="0.9" stroke-dasharray="14,3,2,3"/>
<line x1="417" y1="119.6" x2="470" y2="114.6" stroke="#231f20" stroke-width="0.9" stroke-dasharray="10,3,2,3"/>
<polyline points="426.4,119.8 457.8,242.2 724.7,242.2" fill="none" stroke="#231f20" stroke-width="1"/>
<path d="M426.4,119.8 L424.6,131 L429.4,130 Z" fill="#231f20"/>
<text x="465.5" y="237.2" font-size="20" textLength="258" lengthAdjust="spacingAndGlyphs">Min. sideflex radius = R500</text>
<line x1="633" y1="106.3" x2="672" y2="106.3" stroke="#231f20" stroke-width="1"/>
<line x1="633" y1="121.2" x2="672" y2="121.2" stroke="#231f20" stroke-width="1"/>
<line x1="670" y1="71.5" x2="670" y2="145" stroke="#231f20" stroke-width="1"/>
<path d="M670,106.3 L668,95 L672,95 Z M670,121.2 L668,132.5 L672,132.5 Z" fill="#231f20"/>
<text transform="translate(665.5,93.8) rotate(-90)" font-size="20">10</text>
<line x1="628" y1="22.5" x2="706" y2="22.5" stroke="#231f20" stroke-width="1"/>
<line x1="628" y1="204.2" x2="706" y2="204.2" stroke="#231f20" stroke-width="1"/>
<line x1="703.3" y1="22.5" x2="703.3" y2="204.2" stroke="#231f20" stroke-width="1"/>
<path d="M703.3,22.5 L701.3,34 L705.3,34 Z M703.3,204.2 L701.3,192.7 L705.3,192.7 Z" fill="#231f20"/>
<text transform="translate(699,126.6) rotate(-90)" font-size="20" textLength="31" lengthAdjust="spacingAndGlyphs">120</text>
<line x1="732" y1="66.3" x2="778" y2="66.3" stroke="#231f20" stroke-width="1"/>
<line x1="732" y1="160.3" x2="778" y2="160.3" stroke="#231f20" stroke-width="1"/>
<line x1="735.6" y1="66.3" x2="735.6" y2="160.3" stroke="#231f20" stroke-width="1"/>
<path d="M735.6,66.3 L733.6,77.8 L737.6,77.8 Z M735.6,160.3 L733.6,148.8 L737.6,148.8 Z" fill="#231f20"/>
<text transform="translate(730.8,124) rotate(-90)" font-size="20">62</text>
<defs><pattern id="hat" patternUnits="userSpaceOnUse" width="5.8" height="5.8" patternTransform="rotate(-45)"><rect width="5.8" height="5.8" fill="#fff"/><line x1="0" y1="0.6" x2="5.8" y2="0.6" stroke="#231f20" stroke-width="1.15"/></pattern></defs>
<rect x="778.5" y="19.5" width="19" height="46.5" fill="url(#hat)" stroke="#231f20" stroke-width="1.2"/>
<rect x="778.5" y="160.3" width="19" height="47" fill="url(#hat)" stroke="#231f20" stroke-width="1.2"/>
<path d="M757,29.3 V24.8 Q757,22.3 759.5,22.3 H778.5 V204 H759.5 Q757,204 757,201.5 V197.3 H770.8 Q772.4,197.3 772.4,195.7 V30.9 Q772.4,29.3 770.8,29.3 Z" fill="#a8e1f9" stroke="#231f20" stroke-width="1.3"/>
<rect x="756.9" y="31.549999999999997" width="11.7" height="13.799999999999999" rx="1.5" fill="#a8e1f9" stroke="#231f20" stroke-width="1.3"/>
<rect x="756.9" y="46.65" width="11.7" height="13.799999999999999" rx="1.5" fill="#a8e1f9" stroke="#231f20" stroke-width="1.3"/>
<rect x="756.9" y="61.74999999999999" width="11.7" height="13.799999999999999" rx="1.5" fill="#a8e1f9" stroke="#231f20" stroke-width="1.3"/>
<rect x="756.9" y="76.85" width="11.7" height="13.799999999999999" rx="1.5" fill="#a8e1f9" stroke="#231f20" stroke-width="1.3"/>
<rect x="756.9" y="91.95" width="11.7" height="13.799999999999999" rx="1.5" fill="#a8e1f9" stroke="#231f20" stroke-width="1.3"/>
<rect x="756.9" y="107.05000000000001" width="11.7" height="13.799999999999999" rx="1.5" fill="#a8e1f9" stroke="#231f20" stroke-width="1.3"/>
<rect x="756.9" y="122.15" width="11.7" height="13.799999999999999" rx="1.5" fill="#a8e1f9" stroke="#231f20" stroke-width="1.3"/>
<rect x="756.9" y="137.25" width="11.7" height="13.799999999999999" rx="1.5" fill="#a8e1f9" stroke="#231f20" stroke-width="1.3"/>
<rect x="756.9" y="152.35" width="11.7" height="13.799999999999999" rx="1.5" fill="#a8e1f9" stroke="#231f20" stroke-width="1.3"/>
<rect x="756.9" y="167.45000000000002" width="11.7" height="13.799999999999999" rx="1.5" fill="#a8e1f9" stroke="#231f20" stroke-width="1.3"/>
<rect x="756.9" y="182.55" width="11.7" height="13.799999999999999" rx="1.5" fill="#a8e1f9" stroke="#231f20" stroke-width="1.3"/>
<line x1="762.6" y1="24" x2="762.6" y2="210" stroke="#231f20" stroke-width="0.9" stroke-dasharray="6,2.5,2,2.5"/>
<rect x="801.4" y="52.8" width="6" height="16" fill="#a8e1f9" stroke="#231f20" stroke-width="1.1"/>
<rect x="801.4" y="158" width="6" height="15.8" fill="#a8e1f9" stroke="#231f20" stroke-width="1.1"/>
<rect x="778.3" y="68.7" width="29.1" height="15.4" fill="#a8e1f9" stroke="#231f20" stroke-width="1.1"/>
<rect x="778.3" y="142.6" width="29.1" height="15.4" fill="#a8e1f9" stroke="#231f20" stroke-width="1.1"/>
<rect x="772.5" y="84.1" width="34.9" height="9.9" fill="#a8e1f9" stroke="#231f20" stroke-width="1.1"/>
<rect x="772.5" y="133.1" width="34.9" height="9.5" fill="#a8e1f9" stroke="#231f20" stroke-width="1.1"/>
<rect x="778.3" y="94" width="9" height="39.1" fill="#a8e1f9" stroke="#231f20" stroke-width="1.1"/>
<rect x="797.5" y="94" width="9.9" height="39.1" fill="#a8e1f9" stroke="#231f20" stroke-width="1.1"/>
<line x1="778.3" y1="106.4" x2="787.3" y2="106.4" stroke="#231f20" stroke-width="1"/>
<line x1="778.3" y1="121.4" x2="787.3" y2="121.4" stroke="#231f20" stroke-width="1"/>
<line x1="797.5" y1="106.4" x2="807.4" y2="106.4" stroke="#231f20" stroke-width="1"/>
<line x1="797.5" y1="121.4" x2="807.4" y2="121.4" stroke="#231f20" stroke-width="1"/>
<rect x="787.6" y="94.6" width="9.6" height="38.4" fill="#b4b4b4" stroke="#231f20" stroke-width="2"/>
<rect x="790.6" y="96" width="3.4" height="35.6" fill="#d6d6d6"/>
<line x1="788.6" y1="99" x2="796.6" y2="99" stroke="#231f20" stroke-width="1"/>
<line x1="788.6" y1="127.6" x2="796.6" y2="127.6" stroke="#231f20" stroke-width="1"/>
<line x1="792.2" y1="60" x2="792.2" y2="166" stroke="#231f20" stroke-width="0.9" stroke-dasharray="8,2.5,2,2.5"/>
<line x1="753" y1="113.1" x2="814" y2="113.1" stroke="#231f20" stroke-width="0.9" stroke-dasharray="8,2.5,2,2.5"/>
<line x1="732" y1="66.3" x2="778.5" y2="66.3" stroke="#231f20" stroke-width="1"/>
<line x1="732" y1="160.5" x2="778.5" y2="160.5" stroke="#231f20" stroke-width="1"/>
<line x1="807" y1="53.2" x2="874" y2="53.2" stroke="#231f20" stroke-width="1"/>
<line x1="807" y1="173.7" x2="874" y2="173.7" stroke="#231f20" stroke-width="1"/>
<line x1="807" y1="68.7" x2="845" y2="68.7" stroke="#231f20" stroke-width="1"/>
<line x1="807" y1="158" x2="845" y2="158" stroke="#231f20" stroke-width="1"/>
<line x1="871" y1="53.2" x2="871" y2="173.7" stroke="#231f20" stroke-width="1"/>
<path d="M871,53.2 L869,64.7 L873,64.7 Z M871,173.7 L869,162.2 L873,162.2 Z" fill="#231f20"/>
<line x1="841.9" y1="68.7" x2="841.9" y2="158" stroke="#231f20" stroke-width="1"/>
<path d="M841.9,68.7 L839.9,80.2 L843.9,80.2 Z M841.9,158 L839.9,146.5 L843.9,146.5 Z" fill="#231f20"/>
<text transform="translate(837.5,125) rotate(-90)" font-size="20">59</text>
<text transform="translate(868,125) rotate(-90)" font-size="20">80</text>
<line x1="756.5" y1="204" x2="756.5" y2="232" stroke="#231f20" stroke-width="1"/>
<line x1="769" y1="204" x2="769" y2="232" stroke="#231f20" stroke-width="1"/>
<line x1="778.3" y1="204" x2="778.3" y2="232" stroke="#231f20" stroke-width="1"/>
<line x1="778.3" y1="207" x2="778.3" y2="260" stroke="#231f20" stroke-width="1"/>
<line x1="801.2" y1="174" x2="801.2" y2="260" stroke="#231f20" stroke-width="1"/>
<line x1="731.7" y1="227.1" x2="857" y2="227.1" stroke="#231f20" stroke-width="1"/>
<path d="M756,227.1 L744.5,225.1 L744.5,229.1 Z M778.3,227.1 L789.8,225.1 L789.8,229.1 Z" fill="#231f20"/>
<line x1="754" y1="257" x2="838" y2="257" stroke="#231f20" stroke-width="1"/>
<path d="M778.3,257 L766.8,255 L766.8,259 Z M801.2,257 L812.7,255 L812.7,259 Z" fill="#231f20"/>
<text x="811.5" y="222" font-size="20" font-style="italic">&#966;</text>
<text x="827" y="222" font-size="20">8.5</text>
<text x="815" y="251.5" font-size="20">15</text>
<path d="M447.4,358.5 V345 Q447.4,327 465,327 H629.5 V333.5 A13,14.45 0 0 1 629.5,362.4 H450.5 Q447.4,362.4 447.4,358.5 Z" fill="#a8e1f9" stroke="none"/>
<path d="M470.5,327 H465 Q447.4,327 447.4,345 V358.5 Q447.4,362.4 450.5,362.4 H629.5 A13,14.45 0 0 0 629.5,333.5 H627" fill="none" stroke="#231f20" stroke-width="1.3"/>
<path d="M518.6,327 H524.8" stroke="#231f20" stroke-width="1.2"/>
<path d="M521.2,333.3 V336 Q533.5,337 533.5,348.5 Q533.5,361.5 524.6,362.4" fill="none" stroke="#231f20" stroke-width="1.2"/>
<path d="M524.8,333 V327" stroke="#231f20" stroke-width="1"/>
<path d="M573.0,327 H579.0" stroke="#231f20" stroke-width="1.2"/>
<path d="M575.5,333.3 V336 Q587.8,337 587.8,348.5 Q587.8,361.5 578.9,362.4" fill="none" stroke="#231f20" stroke-width="1.2"/>
<path d="M579.0,333 V327" stroke="#231f20" stroke-width="1"/>
<path d="M481.6,333 V362 M484.1,333 V362 M508.6,333 V362 M511.6,333 V362" stroke="#231f20" stroke-width="1"/>
<path d="M484.1,361.5 V359 Q485.1,355.5 488.6,355.5 H503.6 Q507.1,355.5 508.6,359 V361.5" fill="none" stroke="#231f20" stroke-width="1"/>
<path d="M536.1,333 V362 M538.6,333 V362 M563.1,333 V362 M566.1,333 V362" stroke="#231f20" stroke-width="1"/>
<path d="M538.6,361.5 V359 Q539.6,355.5 543.1,355.5 H558.1 Q561.6,355.5 563.1,359 V361.5" fill="none" stroke="#231f20" stroke-width="1"/>
<path d="M590.5,333 V362 M593.0,333 V362 M617.5,333 V362 M620.5,333 V362" stroke="#231f20" stroke-width="1"/>
<path d="M593.0,361.5 V359 Q594.0,355.5 597.5,355.5 H612.5 Q616.0,355.5 617.5,359 V361.5" fill="none" stroke="#231f20" stroke-width="1"/>
<rect x="470.4" y="311.1" width="48.2" height="22" rx="4.5" fill="#a8e1f9" stroke="#231f20" stroke-width="1.4"/>
<path d="M475.4,311.3 Q478.4,309.6 481.4,311.3" fill="none" stroke="#231f20" stroke-width="1"/>
<path d="M491.4,311.3 Q494.4,309.6 497.4,311.3" fill="none" stroke="#231f20" stroke-width="1"/>
<path d="M507.4,311.3 Q510.4,309.6 513.4,311.3" fill="none" stroke="#231f20" stroke-width="1"/>
<rect x="524.8" y="311.1" width="48.2" height="22" rx="4.5" fill="#a8e1f9" stroke="#231f20" stroke-width="1.4"/>
<path d="M529.8,311.3 Q532.8,309.6 535.8,311.3" fill="none" stroke="#231f20" stroke-width="1"/>
<path d="M545.8,311.3 Q548.8,309.6 551.8,311.3" fill="none" stroke="#231f20" stroke-width="1"/>
<path d="M561.8,311.3 Q564.8,309.6 567.8,311.3" fill="none" stroke="#231f20" stroke-width="1"/>
<rect x="579" y="311.1" width="48.5" height="22" rx="4.5" fill="#a8e1f9" stroke="#231f20" stroke-width="1.4"/>
<path d="M577.2,317.2 H629.6" fill="none" stroke="#231f20" stroke-width="0.9" stroke-dasharray="5,1.5"/>
<path d="M580,327.3 H625" fill="none" stroke="#231f20" stroke-width="0.9" stroke-dasharray="3.5,2.5"/>
<path d="M585.8,308.8 V326.4" fill="none" stroke="#231f20" stroke-width="0.9"/>
<path d="M581.8,311.3 Q585.8,308.8 589.8,311.3" fill="none" stroke="#231f20" stroke-width="1.1"/>
<path d="M580.8,324 L584.8,316 M587.8,317 L590.8,323" fill="none" stroke="#231f20" stroke-width="0.8" stroke-dasharray="2.5,1.8"/>
<path d="M603.2,308.8 V326.4" fill="none" stroke="#231f20" stroke-width="0.9"/>
<path d="M599.2,311.3 Q603.2,308.8 607.2,311.3" fill="none" stroke="#231f20" stroke-width="1.1"/>
<path d="M598.2,324 L602.2,316 M605.2,317 L608.2,323" fill="none" stroke="#231f20" stroke-width="0.8" stroke-dasharray="2.5,1.8"/>
<path d="M620.4,308.8 V326.4" fill="none" stroke="#231f20" stroke-width="0.9"/>
<path d="M616.4,311.3 Q620.4,308.8 624.4,311.3" fill="none" stroke="#231f20" stroke-width="1.1"/>
<path d="M615.4,324 L619.4,316 M622.4,317 L625.4,323" fill="none" stroke="#231f20" stroke-width="0.8" stroke-dasharray="2.5,1.8"/>
<line x1="443" y1="347.2" x2="674" y2="347.2" stroke="#231f20" stroke-width="0.9" stroke-dasharray="12,3,2,3"/>
<line x1="466.8" y1="322" x2="466.8" y2="396" stroke="#231f20" stroke-width="1"/>
<circle cx="466.9" cy="347.2" r="5.9" fill="#fff" stroke="#231f20" stroke-width="2.8"/>
<path d="M466.9,343 V351.4 M462.7,347.2 H471.1" stroke="#231f20" stroke-width="0.8"/>
<path d="M521.0,341.5 A5.6,5.6 0 0 0 521.0,352.9 H524.5 V341.5 Z" fill="#b9b9b9" stroke="#231f20" stroke-width="1.1"/>
<line x1="521.0" y1="322" x2="521.0" y2="396" stroke="#231f20" stroke-width="1"/>
<path d="M575.3,341.5 A5.6,5.6 0 0 0 575.3,352.9 H578.8 V341.5 Z" fill="#b9b9b9" stroke="#231f20" stroke-width="1.1"/>
<line x1="575.3" y1="322" x2="575.3" y2="396" stroke="#231f20" stroke-width="1"/>
<path d="M629.5,341.5 A5.6,5.6 0 0 0 629.5,352.9 H633.0 V341.5 Z" fill="#b9b9b9" stroke="#231f20" stroke-width="1.1"/>
<line x1="629.5" y1="322" x2="629.5" y2="370" stroke="#231f20" stroke-width="1"/>
<line x1="466.8" y1="393" x2="575.3" y2="393" stroke="#231f20" stroke-width="1"/>
<path d="M466.8,393 L478.3,391 L478.3,395 Z M521,393 L509.5,391 L509.5,395 Z M521,393 L532.5,391 L532.5,395 Z M575.3,393 L563.8,391 L563.8,395 Z" fill="#231f20"/>
<text x="482" y="388" font-size="20">36</text>
<text x="536.5" y="388" font-size="20">36</text>
<line x1="624" y1="311" x2="705" y2="311" stroke="#231f20" stroke-width="1"/>
<line x1="643" y1="362.4" x2="705" y2="362.4" stroke="#231f20" stroke-width="1"/>
<line x1="702.5" y1="311" x2="702.5" y2="362.4" stroke="#231f20" stroke-width="1"/>
<path d="M702.5,311 L700.5,322.5 L704.5,322.5 Z M702.5,362.4 L700.5,350.9 L704.5,350.9 Z" fill="#231f20"/>
<text transform="translate(698,356) rotate(-90)" font-size="20.5">33.7</text>
<line x1="669.4" y1="253" x2="669.4" y2="369" stroke="#231f20" stroke-width="1"/>
<path d="M669.4,311 L667.4,299.5 L671.4,299.5 Z M669.4,347.2 L667.4,358.7 L671.4,358.7 Z" fill="#231f20"/>
<text transform="translate(665.8,295) rotate(-90)" font-size="20.5">23.7</text>
<line x1="495" y1="427.8" x2="523.2" y2="427.8" stroke="#231f20" stroke-width="1.1"/>
<path d="M473.3,427.8 L497,423.8 L497,431.8 Z" fill="#231f20"/>
<path d="M523.2,427.8 L527.5,418.5 H556.9 L553.6,427.8 Z" fill="none" stroke="#231f20" stroke-width="1"/>
<line x1="529.7" y1="427.8" x2="534.0" y2="418.5" stroke="#231f20" stroke-width="1"/>
<line x1="536.2" y1="427.8" x2="540.5" y2="418.5" stroke="#231f20" stroke-width="1"/>
<line x1="542.7" y1="427.8" x2="547.0" y2="418.5" stroke="#231f20" stroke-width="1"/>
<line x1="549.2" y1="427.8" x2="553.5" y2="418.5" stroke="#231f20" stroke-width="1"/>
<text x="567.5" y="430" font-size="20" textLength="166.5" lengthAdjust="spacingAndGlyphs">Direction of travel</text>
<text x="752.5" y="430.5" font-size="18" textLength="142" lengthAdjust="spacingAndGlyphs">Dimensions in mm</text>
</svg>
</body></html>
